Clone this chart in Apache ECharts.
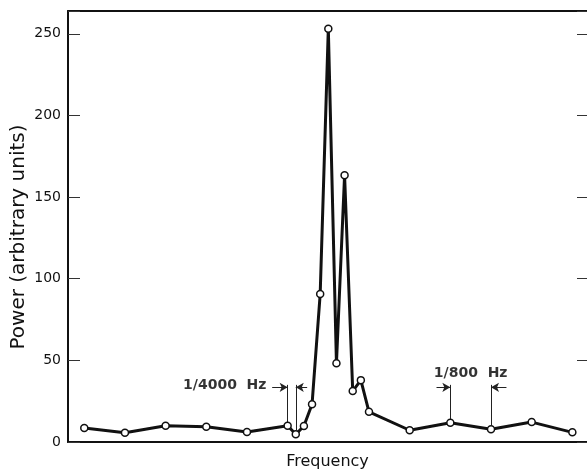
<!DOCTYPE html>
<html>
<head>
<meta charset="utf-8">
<script src="https://cdn.jsdelivr.net/npm/echarts@6/dist/echarts.min.js"></script>
<style>html,body{margin:0;padding:0;background:#fff}#c{width:587px;height:471px}</style>
</head>
<body>
<div id="c"></div>
<script>
// Frequency index (fine step near the peak, coarse step elsewhere)
const freqIndex = [0, 5, 10, 15, 20, 25, 26, 27, 28, 29, 30, 31, 32, 33, 34, 35, 40, 45, 50, 55, 60];
// Power (arbitrary units)
const power = [8.6, 5.7, 10.0, 9.4, 6.1, 10.0, 4.7, 9.8, 23.1, 90.6, 253.2, 48.2, 163.4, 31.2, 37.9, 18.5, 7.2, 11.8, 7.8, 12.2, 5.9];
const yTicks = [0, 50, 100, 150, 200, 250];
// Annotation brackets: two marker frequencies and a label each
const bracket4000 = [25, 26];
const bracket800 = [45, 50];
const label4000 = '1/4000  Hz';
const label800 = '1/800  Hz';

const chart = echarts.init(document.getElementById('c'), null, {renderer: 'canvas'});
const ink = '#111';
const yMax = 264;

function pointAt(x) { return power[freqIndex.indexOf(x)]; }
const bracketTop = 35, arrowY = 33.5;
function bracketLines(pair, leftFrom, rightFrom) {
  const [a, b] = pair;
  return [
    [{coord: [a, bracketTop], symbol: 'none'}, {coord: [a, pointAt(a) + 1.5], symbol: 'none'}],
    [{coord: [b, bracketTop], symbol: 'none'}, {coord: [b, pointAt(b) + 2.5], symbol: 'none'}],
    [{coord: [leftFrom, arrowY], symbol: 'none'}, {coord: [a, arrowY], symbol: 'arrow'}],
    [{coord: [rightFrom, arrowY], symbol: 'none'}, {coord: [b, arrowY], symbol: 'arrow'}]
  ];
}

const option = {
  animation: false,
  backgroundColor: '#fff',
  grid: {left: 68, right: 0, top: 11, bottom: 29, containLabel: false, outerBoundsMode: 'none'},
  xAxis: [{
    type: 'value', min: -2, max: 61.8, position: 'bottom',
    name: 'Frequency', nameLocation: 'middle', nameGap: 12,
    nameTextStyle: {fontFamily: 'DejaVu Sans', fontSize: 16, color: ink},
    axisLine: {show: true, onZero: false, lineStyle: {color: ink, width: 2}},
    axisTick: {show: false}, axisLabel: {show: false}, splitLine: {show: false}
  }, {
    type: 'value', min: -2, max: 61.8, position: 'top',
    axisLine: {show: true, onZero: false, lineStyle: {color: ink, width: 2}},
    axisTick: {show: false}, axisLabel: {show: false}, splitLine: {show: false}
  }],
  yAxis: [{
    type: 'value', min: 0, max: yMax, interval: 50, position: 'left',
    axisLine: {show: true, onZero: false, lineStyle: {color: ink, width: 2}},
    axisTick: {show: true, inside: true, length: 12, lineStyle: {color: '#333', width: 1}},
    axisLabel: {show: true, margin: 7, fontFamily: 'DejaVu Sans', fontSize: 14, color: ink,
      formatter: v => yTicks.includes(v) ? String(v) : ''},
    splitLine: {show: false}
  }, {
    type: 'value', min: 0, max: yMax, interval: 50, position: 'right',
    axisLine: {show: false, onZero: false},
    axisTick: {show: true, inside: true, length: 10, lineStyle: {color: '#333', width: 1}},
    axisLabel: {show: false}, splitLine: {show: false}
  }],
  graphic: [{
    type: 'text', x: 19, y: 237, rotation: Math.PI / 2,
    style: {text: 'Power (arbitrary units)', fontFamily: 'DejaVu Sans', fontSize: 20,
      fill: ink, textAlign: 'center', textVerticalAlign: 'middle'}
  }],
  series: [{
    type: 'line',
    data: freqIndex.map((f, i) => [f, power[i]]),
    symbol: 'circle', symbolSize: 7, showSymbol: true,
    lineStyle: {color: ink, width: 3},
    itemStyle: {color: '#fff', borderColor: ink, borderWidth: 1.5},
    z: 5,
    markLine: {
      silent: true, animation: false, symbolSize: [7, 8],
      label: {show: false},
      lineStyle: {color: '#222', width: 1, type: 'solid'},
      emphasis: {disabled: true},
      data: bracketLines(bracket4000, 23.1, 27.4).concat(bracketLines(bracket800, 43.3, 51.9))
    }
  }, {
    type: 'scatter', symbolSize: 0, silent: true,
    data: [[22.4, 35]],
    label: {show: true, position: 'inside', align: 'right', verticalAlign: 'middle',
      formatter: label4000, fontFamily: 'DejaVu Sans', fontWeight: 'bold', fontSize: 14, color: '#000'}
  }, {
    type: 'scatter', symbolSize: 0, silent: true,
    data: [[47.5, 42]],
    label: {show: true, position: 'inside', align: 'center', verticalAlign: 'middle',
      formatter: label800, fontFamily: 'DejaVu Sans', fontWeight: 'bold', fontSize: 14, color: '#000'}
  }]
};
chart.setOption(option);
</script>
</body>
</html>
